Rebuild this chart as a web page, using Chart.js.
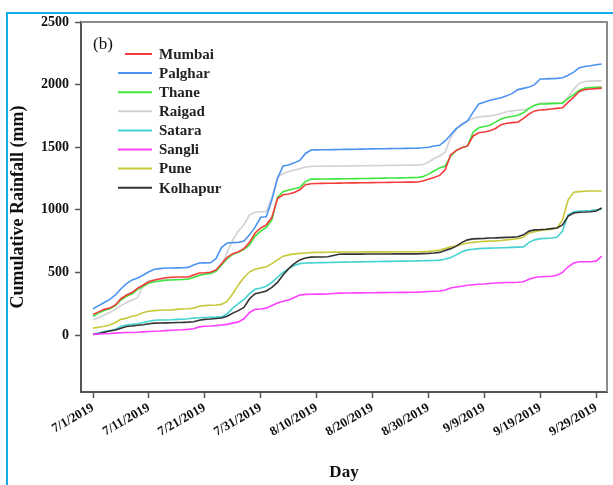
<!DOCTYPE html>
<html>
<head>
<meta charset="utf-8">
<script src="https://cdn.jsdelivr.net/npm/chart.js@4.4.1/dist/chart.umd.min.js"></script>
<style>
  html,body{margin:0;padding:0;background:#fff;}
  #wrap{position:relative;width:613px;height:485px;overflow:hidden;}
  #c{position:absolute;left:0;top:0;}
  .fr{position:absolute;background:#12aeea;}
</style>
</head>
<body>
<div id="wrap">
  <canvas id="c" width="613" height="485"></canvas>
  <div class="fr" style="left:6px;top:12px;width:607px;height:2px;"></div>
  <div class="fr" style="left:6px;top:12px;width:2px;height:473px;"></div>
</div>
<script>
// ---- data ----
const days = Array.from({length: 92}, (_, i) => i); // 0 = 7/1/2019 ... 91 = 9/30/2019
const xTickDays = [0, 10, 20, 30, 40, 50, 60, 70, 80, 90];
const xTickLabels = ['7/1/2019','7/11/2019','7/21/2019','7/31/2019','8/10/2019','8/20/2019','8/30/2019','9/9/2019','9/19/2019','9/29/2019'];
const yTicks = [0, 500, 1000, 1500, 2000, 2500];
const seriesNames = ['Mumbai','Palghar','Thane','Raigad','Satara','Sangli','Pune','Kolhapur'];

const mumbai = [165,185,205,215,240,290,320,340,375,400,
 425,440,450,458,462,463,463,464,480,495,
 498,502,520,570,620,650,665,690,740,815,
 855,880,940,1090,1120,1126,1138,1160,1200,1208,
 1210,1211,1212,1212,1213,1214,1215,1215,1216,1216,
 1217,1218,1218,1219,1220,1220,1221,1221,1222,1230,
 1245,1258,1275,1320,1440,1475,1495,1510,1590,1615,
 1622,1632,1650,1680,1692,1696,1700,1730,1765,1790,
 1797,1800,1805,1810,1815,1860,1900,1945,1960,1965,
 1968,1972];
const palghar = [210,235,260,285,320,370,410,440,455,480,
 505,525,530,535,535,536,537,540,560,575,
 576,577,610,700,735,738,740,750,800,862,
 940,945,1080,1250,1350,1358,1375,1395,1450,1478,
 1479,1480,1480,1481,1482,1483,1483,1484,1485,1486,
 1487,1488,1488,1489,1490,1490,1491,1492,1493,1496,
 1500,1510,1515,1550,1600,1650,1680,1710,1780,1845,
 1860,1875,1885,1895,1910,1930,1960,1970,1980,2000,
 2045,2046,2048,2050,2055,2075,2100,2135,2145,2150,
 2158,2165];
const thane = [150,175,195,210,235,280,310,330,365,390,
 415,425,432,438,440,442,443,445,460,475,
 485,492,510,560,610,645,660,685,720,790,
 830,860,920,1100,1145,1158,1168,1180,1225,1245,
 1245,1246,1246,1247,1247,1248,1248,1249,1250,1250,
 1251,1252,1253,1254,1254,1255,1256,1257,1258,1265,
 1285,1310,1335,1350,1430,1475,1495,1510,1620,1655,
 1665,1675,1700,1725,1740,1745,1755,1775,1810,1835,
 1845,1846,1848,1850,1852,1890,1920,1955,1972,1976,
 1978,1980];
const raigad = [120,140,160,180,205,235,260,280,300,400,
 435,440,442,444,445,446,447,450,465,480,
 490,495,505,560,660,760,830,880,960,980,
 985,986,1100,1260,1290,1305,1318,1328,1342,1347,
 1348,1348,1349,1349,1350,1350,1351,1351,1352,1352,
 1353,1353,1354,1355,1355,1356,1356,1357,1358,1360,
 1380,1410,1430,1460,1580,1640,1690,1710,1730,1742,
 1746,1750,1757,1770,1783,1790,1795,1798,1810,1835,
 1852,1852,1853,1853,1855,1900,1965,2010,2025,2028,
 2030,2030];
const satara = [5,15,28,35,45,70,80,85,90,100,
 110,118,120,120,122,125,127,130,135,138,
 140,142,143,145,170,215,250,285,330,365,
 375,390,420,460,500,530,555,570,575,576,
 577,578,579,580,581,582,583,584,584,585,
 586,587,588,588,589,590,590,591,592,593,
 594,595,598,605,620,640,665,680,685,690,
 692,694,695,697,698,700,702,704,740,760,
 770,772,775,780,830,960,985,990,992,995,
 1000,1005];
const sangli = [5,8,10,12,15,18,20,20,22,25,
 28,30,32,35,38,40,42,45,50,65,
 70,72,75,80,85,95,105,130,180,205,
 208,215,235,255,270,280,300,320,325,326,
 327,327,328,332,335,336,336,337,337,338,
 338,339,339,340,340,341,341,342,343,345,
 348,350,352,360,375,383,390,398,402,405,
 408,412,415,417,419,420,422,425,445,460,
 465,468,470,478,500,545,575,585,585,585,
 590,630];
const pune = [55,62,70,80,100,125,135,150,160,180,
 190,195,198,200,200,205,208,210,215,230,
 235,238,240,245,270,330,400,460,505,525,
 535,545,570,600,630,640,648,652,655,658,
 660,660,661,662,662,663,663,663,663,664,
 664,664,664,664,665,665,665,665,665,666,
 668,672,678,690,705,712,725,735,740,745,
 748,750,752,755,760,765,770,780,815,825,
 835,840,845,855,920,1080,1140,1145,1148,1150,
 1150,1150];
const kolhapur = [5,12,22,32,40,55,68,72,78,82,
 90,95,96,97,98,100,101,103,106,118,
 125,128,132,136,150,175,195,220,290,330,
 340,352,380,420,480,530,570,600,615,622,
 623,623,625,635,645,646,646,646,646,647,
 647,647,647,647,648,648,648,648,648,650,
 652,655,660,675,690,710,740,760,768,770,
 772,775,776,778,780,782,785,800,830,840,
 842,845,850,855,880,950,975,980,982,985,
 990,1015];

const seriesValues = [mumbai, palghar, thane, raigad, satara, sangli, pune, kolhapur];
const seriesColors = ['#f43c3c','#4a93f2','#3ee63e','#d2d2d2','#45d2d2','#ff40ff','#c8c83a','#333333'];

const datasets = seriesNames.map((name, k) => ({
  label: name,
  data: days.map((d, i) => ({x: d, y: seriesValues[k][i]})),
  borderColor: seriesColors[k],
  backgroundColor: seriesColors[k],
  borderWidth: 1.6,
  pointRadius: 0,
  tension: 0,
  fill: false
}));
// draw order: put the grey/light ones underneath
const order = [3, 4, 6, 7, 5, 1, 2, 0];
order.forEach((k, idx) => { datasets[k].order = 8 - idx; });

const serif = "'Liberation Serif','Times New Roman',serif";

const framePlugin = {
  id: 'frame',
  afterDraw(chart) {
    const {ctx, chartArea: a} = chart;
    ctx.save();
    ctx.strokeStyle = '#8a8a8a';
    ctx.lineWidth = 2;
    ctx.beginPath();
    ctx.moveTo(a.left, a.top); ctx.lineTo(a.right, a.top); ctx.lineTo(a.right, a.bottom);
    ctx.stroke();
    // panel label
    ctx.fillStyle = '#111';
    ctx.font = "17px " + serif;
    ctx.textBaseline = 'alphabetic';
    ctx.textAlign = 'left';
    ctx.fillText('(b)', 93, 49);
    // legend
    const x0 = 118, x1 = 152, tx = 159, y0 = 54, dy = 19.1;
    ctx.font = "bold 15px " + serif;
    ctx.textBaseline = 'middle';
    seriesNames.forEach((n, i) => {
      const y = y0 + dy * i;
      ctx.strokeStyle = seriesColors[i];
      ctx.lineWidth = 2;
      ctx.beginPath(); ctx.moveTo(i === 0 ? 125 : x0, y); ctx.lineTo(x1, y); ctx.stroke();
      ctx.fillStyle = '#222';
      ctx.fillText(n, tx, y + 1);
    });
    ctx.restore();
  }
};

new Chart(document.getElementById('c'), {
  type: 'line',
  data: { datasets },
  options: {
    responsive: false,
    animation: false,
    devicePixelRatio: 1,
    layout: { padding: { top: 22, right: 6, left: 0, bottom: 0 } },
    plugins: { legend: { display: false }, tooltip: { enabled: false } },
    scales: {
      x: {
        type: 'linear',
        min: -2.15,
        max: 91.95,
        afterBuildTicks(s) { s.ticks = xTickDays.map(v => ({value: v})); },
        afterFit(s) { s.height = 93; },
        grid: { drawOnChartArea: false, drawTicks: true, tickLength: 6, tickColor: '#555', tickWidth: 1.5 },
        border: { display: true, color: '#555', width: 2 },
        ticks: {
          autoSkip: false,
          minRotation: 30, maxRotation: 30,
          padding: 2,
          color: '#111',
          font: { family: serif, size: 13, weight: 'bold' },
          callback(v, i) { return xTickLabels[i]; }
        },
        title: {
          display: true, text: 'Day', color: '#111',
          font: { family: serif, size: 17, weight: 'bold' },
          padding: { top: 0, bottom: 2 }
        }
      },
      y: {
        type: 'linear',
        min: -455,
        max: 2500,
        afterBuildTicks(s) { s.ticks = yTicks.map(v => ({value: v})); },
        afterFit(s) { s.width = 81; },
        grid: { drawOnChartArea: false, drawTicks: true, tickLength: 6, tickColor: '#555', tickWidth: 1.5 },
        border: { display: true, color: '#555', width: 2 },
        ticks: {
          padding: 6,
          color: '#111',
          font: { family: serif, size: 14, weight: 'bold' },
          callback(v) { return String(v); }
        },
        title: {
          display: true, text: 'Cumulative Rainfall (mm)', color: '#111',
          font: { family: serif, size: 18, weight: 'bold' },
          padding: { top: 8, bottom: 0 }
        }
      }
    }
  },
  plugins: [framePlugin]
});
</script>
</body>
</html>
